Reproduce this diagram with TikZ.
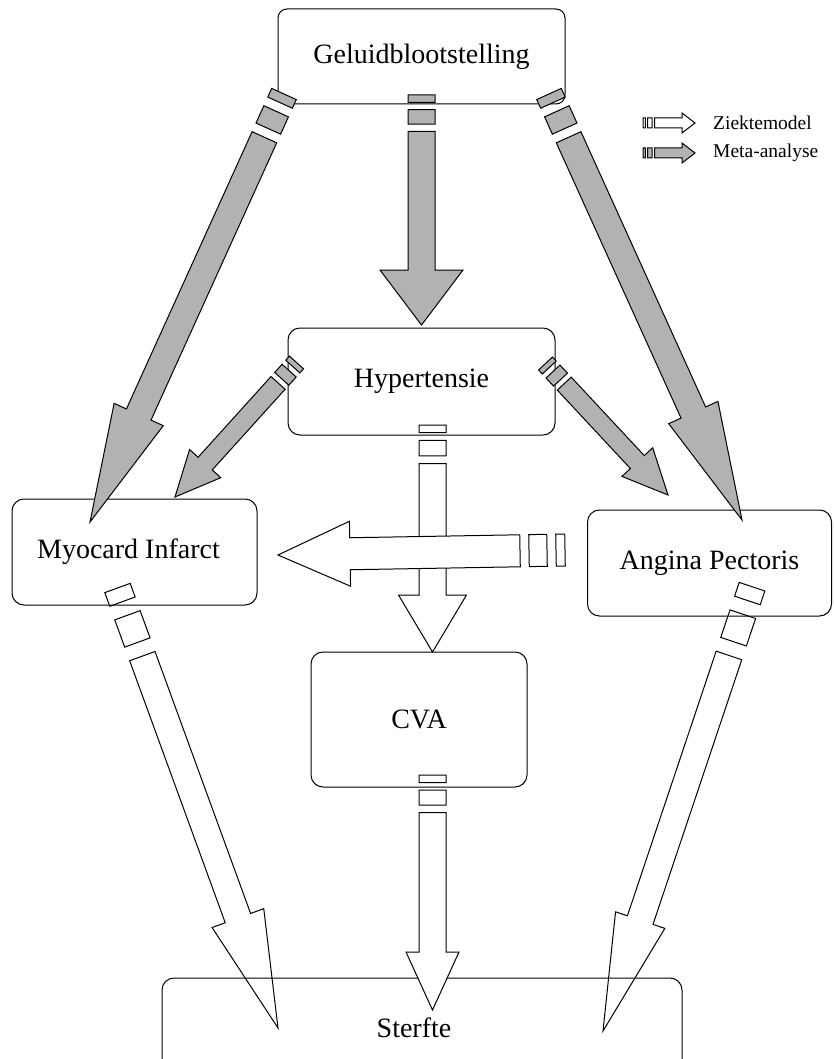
\documentclass[tikz,border=0pt]{standalone}
\usepackage{fontspec}
\setmainfont{Liberation Serif}
\usepackage{tikz}
\usetikzlibrary{calc, positioning, backgrounds}
\definecolor{metagrey}{RGB}{178, 178, 178}
\definecolor{modelwhite}{RGB}{255, 255, 255}

% striped block arrow: [fill]{from}{to}{half shaft}{half head}{head length}{stripe unit}
\newcommand{\stripearrow}[7][modelwhite]{%
  \filldraw [arrowline, fill=#1]
    ($(#2)!#4!90:(#3)$) -- ($(#2)!#7!(#3)!#4!90:(#3)$) -- ($(#2)!#7!(#3)!#4!-90:(#3)$) -- ($(#2)!#4!-90:(#3)$) -- cycle
    ($(#2)!2*#7!(#3)!#4!90:(#3)$) -- ($(#2)!4*#7!(#3)!#4!90:(#3)$) -- ($(#2)!4*#7!(#3)!#4!-90:(#3)$) -- ($(#2)!2*#7!(#3)!#4!-90:(#3)$) -- cycle
    ($(#2)!5*#7!(#3)!#4!90:(#3)$) -- ($(#3)!#6!(#2)!#4!-90:(#2)$) -- ($(#3)!#6!(#2)!#5!-90:(#2)$) -- (#3)
      -- ($(#3)!#6!(#2)!#5!90:(#2)$) -- ($(#3)!#6!(#2)!#4!90:(#2)$) -- ($(#2)!5*#7!(#3)!#4!-90:(#3)$) -- cycle;
}

\begin{document}
\begin{tikzpicture}[
    x=1pt, y=-1pt,
    box/.style={rectangle, draw=black, line width=1pt, rounded corners=12pt, align=center, inner sep=0pt, font=\fontsize{28}{32}\selectfont},
    legendtext/.style={inner sep=0pt, anchor=west, font=\fontsize{19.5}{22}\selectfont},
    arrowline/.style={draw=black, line width=1pt, line join=miter}
]
\useasboundingbox (0,0) rectangle (833,1059);
\clip (0,0) rectangle (833,1059);

\node [box, minimum width=287pt, minimum height=95pt, rounded corners=9pt] (geluid) at (421.5,56.5) {Geluidblootstelling};
\node [box, minimum width=267pt, minimum height=107pt] (hyper) at (421.5,381.5) {Hypertensie};
\node [box, minimum width=245pt, minimum height=106pt] (myo) at (134.5,552) {\hspace*{-12pt}Myocard Infarct};
\node [box, minimum width=244pt, minimum height=106pt] (angina) at (709.5,563) {\raisebox{6pt}{Angina Pectoris}};
\node [box, minimum width=216pt, minimum height=135pt] (cva) at (419,719.5) {CVA};
\node [box, minimum width=520pt, minimum height=100pt] (sterfte) at (422,1028) {\hspace*{-16pt}Sterfte};

% arrow ends
\coordinate (gh-s) at (421.5,95);   \coordinate (gh-e) at (421.5,325);
\coordinate (gm-s) at (284,94);     \coordinate (gm-e) at (90,522);
\coordinate (ga-s) at (549,94);     \coordinate (ga-e) at (742,520);
\coordinate (hm-s) at (296.5,362.5);\coordinate (hm-e) at (175,497);
\coordinate (ha-s) at (545.5,363.5);\coordinate (ha-e) at (668,495);
\coordinate (hc-s) at (432.5,425);  \coordinate (hc-e) at (432.5,652);
\coordinate (am-s) at (565,550);    \coordinate (am-e) at (278,555);
\coordinate (ms-s) at (117.5,588);  \coordinate (ms-e) at (278,1028);
\coordinate (as-s) at (752,586.7);  \coordinate (as-e) at (603,1031);
\coordinate (cs-s) at (432.5,775);  \coordinate (cs-e) at (432.5,1010);

\begin{scope}[on background layer]
\stripearrow{ms-s}{ms-e}{13.5pt}{27.5pt}{117pt}{14.5pt}
\stripearrow{as-s}{as-e}{13.5pt}{26pt}{117pt}{14.5pt}
\end{scope}

% meta-analyse
\stripearrow[metagrey]{gh-s}{gh-e}{13.5pt}{41.5pt}{55pt}{7.3pt}
\stripearrow[metagrey]{gm-s}{gm-e}{13.5pt}{27pt}{118pt}{9.5pt}
\stripearrow[metagrey]{ga-s}{ga-e}{13.5pt}{27pt}{118pt}{9.5pt}
\stripearrow[metagrey]{hm-s}{hm-e}{9.5pt}{21pt}{45pt}{5.5pt}
\stripearrow[metagrey]{ha-s}{ha-e}{9.5pt}{21pt}{45pt}{5.5pt}

% ziektemodel
\stripearrow{hc-s}{hc-e}{13.5pt}{34pt}{57pt}{7.7pt}
\stripearrow{am-s}{am-e}{16pt}{32.5pt}{72pt}{9pt}
\stripearrow{cs-s}{cs-e}{13.5pt}{26.5pt}{58pt}{7.5pt}

% legend
\coordinate (zk-s) at (643,123); \coordinate (zk-e) at (695,123);
\coordinate (mt-s) at (643,153); \coordinate (mt-e) at (695,153);
\stripearrow{zk-s}{zk-e}{5pt}{10pt}{13pt}{2.3pt}
\stripearrow[metagrey]{mt-s}{mt-e}{5pt}{10pt}{13pt}{2.3pt}
\node [legendtext, right=18pt of zk-e] (zk-t) {Ziektemodel};
\node [legendtext, right=18pt of mt-e] (mt-t) {Meta-analyse};

\end{tikzpicture}
\end{document}
